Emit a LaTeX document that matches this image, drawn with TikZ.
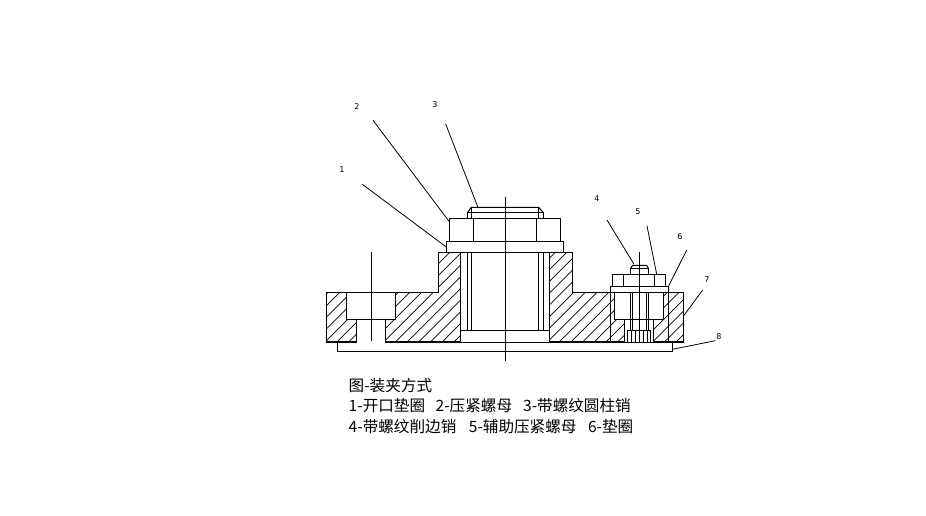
\documentclass[tikz,border=0pt]{standalone}
\usepackage{fontspec}
\newfontfamily\cjk{Noto Sans CJK SC}
\setmainfont{DejaVu Sans}
\begin{document}
\begin{tikzpicture}[x=1pt,y=-1pt,
  part/.style={line width=1pt,line join=miter},
  heavy/.style={line width=1.7pt},
  hatchline/.style={line width=0.7pt},
  leader/.style={line width=0.8pt},
  axisline/.style={line width=0.9pt},
  num/.style={font=\fontsize{8}{9}\selectfont,inner sep=0pt},
  caption/.style={font=\cjk\fontsize{15.6}{18}\selectfont,inner sep=0pt,anchor=west}]
\useasboundingbox (0,0) rectangle (926,515);
\fill[white] (0,0) rectangle (926,515);
% hatching
\begin{scope}
 \clip (326.3,292.3) -- (346.3,292.3) -- (346.3,319.3) -- (356.7,319.3) -- (356.7,342) -- (326.3,342) -- cycle
       (395.7,292.3) -- (438.3,292.3) -- (438.3,252.3) -- (460.5,252.3) -- (460.5,342) -- (385.3,342) -- (385.3,319.3) -- (395.7,319.3) -- cycle
       (549.3,252.3) -- (572.3,252.3) -- (572.3,292.3) -- (610.3,292.3) -- (610.3,342) -- (549.3,342) -- cycle
       (610.3,292.3) -- (614.3,292.3) -- (614.3,319.3) -- (624.3,319.3) -- (624.3,342) -- (610.3,342) -- cycle
       (663.7,292.3) -- (683.7,292.3) -- (683.7,342) -- (653.3,342) -- (653.3,319.3) -- (663.7,319.3) -- cycle;
 \foreach \k in {0,1,...,37} \draw[hatchline] ({\k*11.7+258.6},350) -- ({\k*11.7+378.6},230);
\end{scope}
\draw[part] (326.3,342) -- (326.3,292.3) -- (438.3,292.3) -- (438.3,252.3) -- (460.5,252.3) -- (460.5,342);
\draw[part] (346.3,292.3) -- (346.3,319.3) -- (395.7,319.3) -- (395.7,292.3);
\draw[part] (356.7,319.3) -- (356.7,342) (385.3,319.3) -- (385.3,342);
\draw[part] (549.3,342) -- (549.3,252.3) -- (572.3,252.3) -- (572.3,292.3) -- (683.7,292.3) -- (683.7,342);
% heavy bottom edges
\draw[heavy] (326.3,342) -- (356.7,342) (385.3,342) -- (460.5,342) (549.3,342) -- (624.3,342) (653.3,342) -- (683.7,342);
% base plate
\draw[part] (337.3,342) -- (337.3,351.3) -- (672.3,351.3) -- (672.3,342);
\draw[part] (460.5,342) -- (549.3,342);
\draw[part] (624.3,342) -- (653.3,342);
% big stud
\draw[part] (460.5,330.3) -- (549.3,330.3);
\draw[part] (467.3,252.3) -- (467.3,330.3) (471.3,252.3) -- (471.3,330.3);
\draw[part] (538.7,252.3) -- (538.7,330.3) (543.3,252.3) -- (543.3,330.3);
% washer and nut
\draw[part] (446.7,252.3) rectangle (563.3,241.3);
\draw[part] (449.3,241.3) rectangle (560.3,218.3);
\draw[part] (473.3,218.3) -- (473.3,241.3) (536.7,218.3) -- (536.7,241.3);
\draw[part] (467.3,218.3) -- (467.3,212.7) -- (543.3,212.7) -- (543.3,218.3);
\draw[part] (467.3,212.7) -- (471.3,207.3) -- (538.7,207.3) -- (543.3,212.7);
\draw[part] (471.3,207.3) -- (471.3,218.3) (538.7,207.3) -- (538.7,218.3);
% small nut group
\draw[part] (612.3,286) rectangle (665.7,274.3);
\draw[part] (623.3,274.3) -- (623.3,286) (654.3,274.3) -- (654.3,286);
\draw[part] (610.3,292.3) rectangle (668.3,286);
\draw[part] (630.7,274.3) -- (630.7,268) -- (648.3,268) -- (648.3,274.3);
\draw[part] (630.7,268) -- (632.7,265.3) -- (646.5,265.3) -- (648.3,268);
% small hole
\draw[part] (610.3,292.3) -- (610.3,342) (668.3,292.3) -- (668.3,342);
\draw[part] (614.3,292.3) -- (614.3,319.3) -- (663.7,319.3) -- (663.7,292.3);
\draw[part] (624.3,319.3) -- (624.3,342) (653.3,319.3) -- (653.3,342);
\draw[part] (630.7,292.3) -- (630.7,330.3) (632.7,292.3) -- (632.7,330.3);
\draw[part] (646.3,292.3) -- (646.3,330.3) (648.3,292.3) -- (648.3,330.3);
\draw[part] (627.3,342) -- (627.3,330.3) -- (650.7,330.3) -- (650.7,342);
\draw[part] (631,330.3) -- (631,342) (635,330.3) -- (635,342) (643.3,330.3) -- (643.3,342) (647.3,330.3) -- (647.3,342);
% axes
\coordinate (axA1) at (371.3,251.7); \coordinate (axA2) at (371.3,341);
\coordinate (axB1) at (505.3,197.3); \coordinate (axB2) at (505.3,361.3);
\coordinate (axC1) at (639.3,252);   \coordinate (axC2) at (639.3,341.5);
\draw[axisline] (axA1) -- (axA2);
\draw[axisline] (axB1) -- (axB2);
\draw[axisline] (axC1) -- (axC2);
% labels
\node[num] (n1) at (342,170) {1};
\node[num] (n2) at (357,107) {2};
\node[num] (n3) at (435,105) {3};
\node[num] (n4) at (597,199) {4};
\node[num] (n5) at (638,212) {5};
\node[num] (n6) at (680,237) {6};
\node[num] (n7) at (707,280) {7};
\node[num] (n8) at (719,337) {8};
% leaders
\coordinate (l1a) at (362.3,184.3); \coordinate (l1b) at (446.7,247.3);
\coordinate (l2a) at (373,120.3);   \coordinate (l2b) at (449.3,221.7);
\coordinate (l3a) at (445.7,124);   \coordinate (l3b) at (478.3,208.3);
\coordinate (l4a) at (607,220);     \coordinate (l4b) at (634,264.3);
\coordinate (l5a) at (647,226);     \coordinate (l5b) at (656.7,274.3);
\coordinate (l6a) at (686.7,250);   \coordinate (l6b) at (668.3,286.7);
\coordinate (l7a) at (702.7,290);   \coordinate (l7b) at (683.7,315.7);
\coordinate (l8a) at (715.3,340.7); \coordinate (l8b) at (672.3,349.3);
\foreach \i in {1,...,8} \draw[leader] (l\i a) -- (l\i b);
% caption
\node[caption] (t1) at (348.5,386) {图-装夹方式};
\node[caption] (t2) at (348.5,406) {1-开口垫圈 \hspace{7pt}2-压紧螺母 \hspace{7.5pt}3-带螺纹圆柱销};
\node[caption] (t3) at (348.5,427) {4-带螺纹削边销 \hspace{9pt}5-辅助压紧螺母 \hspace{8pt}6-垫圈};
\end{tikzpicture}
\end{document}
